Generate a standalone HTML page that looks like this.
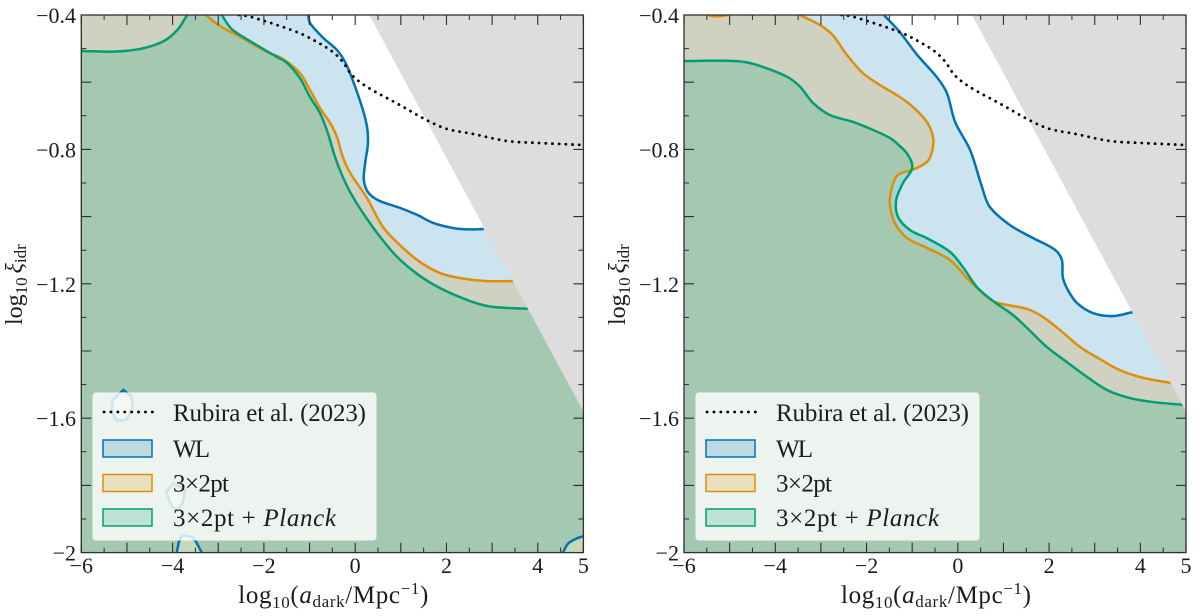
<!DOCTYPE html>
<html lang="en">
<head>
<meta charset="utf-8">
<title>Constraints on dark radiation interactions</title>
<style>
html,body{margin:0;padding:0;background:#fff;width:1200px;height:616px;overflow:hidden}
svg{display:block}
text{font-family:"Liberation Serif",serif;fill:#1c1c1c}
</style>
</head>
<body>
<svg id="figure" xmlns="http://www.w3.org/2000/svg" width="1200" height="616" viewBox="0 0 1200 616"></svg>
<script>
// ---------- shared values ----------
const xTickLabels = [-6, -4, -2, 0, 2, 4, 5];
const yTickLabels = [-0.4, -0.8, -1.2, -1.6, -2];
const xMajorTicks = [-6, -5, -4, -3, -2, -1, 0, 1, 2, 3, 4, 5];
const xMinorTicks = [-5.5, -4.5, -3.5, -2.5, -1.5, -0.5, 0.5, 1.5, 2.5, 3.5, 4.5];
const yMajorTicks = [-0.6, -0.8, -1.0, -1.2, -1.4, -1.6, -1.8];
const yMinorTicks = [-0.5, -0.7, -0.9, -1.1, -1.3, -1.5, -1.7, -1.9];
const greyX = [0.31, 5, 5];
const greyY = [-0.4, -0.4, -1.58];
const rubiraX = [-2.55, -2.30, -1.27, -0.84, -0.49, -0.27, -0.07, 0.26, 0.98, 1.57, 2.01, 2.58, 3.33, 4.05, 5];
const rubiraY = [-0.40, -0.405, -0.451, -0.480, -0.510, -0.540, -0.579, -0.614, -0.668, -0.713, -0.739, -0.754, -0.775, -0.781, -0.787];

// ---------- left panel contours ----------
const leftBlueX = [-1.03, -0.99, -0.70, -0.40, -0.22, -0.07, 0.15, 0.26, 0.28, 0.22, 0.19, 0.28, 0.50, 0.98, 1.36, 1.71, 2.14, 2.45, 2.82];
const leftBlueY = [-0.40, -0.424, -0.468, -0.504, -0.540, -0.588, -0.674, -0.733, -0.781, -0.840, -0.891, -0.927, -0.951, -0.974, -0.995, -1.019, -1.034, -1.038, -1.037];
const leftOrangeX = [-3.27, -3.00, -2.52, -1.93, -1.58, -1.21, -0.99, -0.77, -0.55, -0.40, -0.27, -0.11, 0.26, 0.61, 0.98, 1.42, 1.86, 2.30, 2.89, 3.46];
const leftOrangeY = [-0.40, -0.430, -0.465, -0.510, -0.531, -0.573, -0.623, -0.677, -0.721, -0.763, -0.823, -0.870, -0.945, -1.031, -1.085, -1.135, -1.168, -1.183, -1.192, -1.192];
const leftGreenAX = [-6, -5.31, -4.71, -4.21, -3.90, -3.68];
const leftGreenAY = [-0.507, -0.509, -0.501, -0.479, -0.445, -0.40];
const leftGreenBX = [-2.92, -2.81, -2.68, -2.24, -1.71, -1.49, -1.21, -0.99, -0.77, -0.60, -0.44, -0.29, -0.11, 0.17, 0.55, 0.92, 1.36, 1.86, 2.45, 2.89, 3.33, 3.79];
const leftGreenBY = [-0.40, -0.424, -0.445, -0.483, -0.525, -0.543, -0.588, -0.644, -0.692, -0.751, -0.823, -0.876, -0.927, -0.989, -1.061, -1.120, -1.171, -1.213, -1.248, -1.266, -1.272, -1.274];
const islandOneX = [-5.08, -4.90, -4.87, -5.01, -5.22, -5.33, -5.31];
const islandOneY = [-1.516, -1.536, -1.566, -1.605, -1.607, -1.581, -1.546];
const islandTwoX = [-3.98, -3.73, -3.77, -3.88, -4.02, -4.14];
const islandTwoY = [-1.794, -1.814, -1.848, -1.875, -1.863, -1.819];
const islandThreeX = [-3.91, -3.86, -3.79, -3.58, -3.49, -3.36];
const islandThreeY = [-2.0, -1.967, -1.948, -1.953, -1.967, -2.0];
const cornerX = [4.55, 4.66, 4.82, 5.0];
const cornerY = [-2.0, -1.974, -1.960, -1.951];

// ---------- right panel contours ----------
const rightBlueX = [-1.62, -1.27, -0.89, -0.46, -0.24, -0.06, 0.27, 0.53, 0.70, 1.14, 1.65, 2.13, 2.28, 2.30, 2.41, 2.61, 2.96, 3.40, 3.84];
const rightBlueY = [-0.40, -0.451, -0.519, -0.585, -0.632, -0.718, -0.802, -0.912, -0.971, -1.025, -1.064, -1.099, -1.129, -1.180, -1.218, -1.257, -1.287, -1.296, -1.284];
const rightOrangeArcX = [-5.50, -5.28, -5.04];
const rightOrangeArcY = [-0.40, -0.404, -0.40];
const rightOrangeX = [-3.46, -3.02, -2.74, -2.43, -2.08, -1.71, -1.27, -0.98, -0.68, -0.54, -0.57, -0.68, -1.00, -1.31, -1.44, -1.49, -1.38, -1.11, -0.68, -0.17, 0.20, 0.49, 0.77, 1.08, 1.52, 1.87, 2.24, 2.68, 3.11, 3.55, 4.06, 4.67];
const rightOrangeY = [-0.40, -0.430, -0.460, -0.519, -0.573, -0.608, -0.644, -0.674, -0.718, -0.766, -0.808, -0.838, -0.861, -0.876, -0.912, -0.960, -1.019, -1.064, -1.093, -1.129, -1.183, -1.221, -1.251, -1.263, -1.275, -1.299, -1.338, -1.388, -1.424, -1.457, -1.480, -1.495];
const rightGreenX = [-6, -5.06, -4.62, -4.18, -3.74, -3.46, -3.17, -2.80, -2.30, -1.86, -1.49, -1.27, -1.09, -1.00, -1.20, -1.35, -1.31, -1.05, -0.68, -0.17, 0.11, 0.42, 0.77, 1.21, 1.52, 1.95, 2.39, 2.83, 3.27, 3.77, 4.28, 5];
const rightGreenY = [-0.537, -0.536, -0.541, -0.559, -0.584, -0.613, -0.662, -0.698, -0.718, -0.742, -0.766, -0.790, -0.817, -0.855, -0.900, -0.951, -1.001, -1.040, -1.064, -1.105, -1.150, -1.210, -1.251, -1.293, -1.332, -1.388, -1.433, -1.477, -1.516, -1.540, -1.552, -1.561];

// ---------- drawing helpers ----------
const NS = 'http://www.w3.org/2000/svg';
const svg = document.getElementById('figure');
const BLUE = '#0173b2', ORANGE = '#de8f05', GREEN = '#029e73';
const TOP = 15, BOTTOM = 552.6;

function make(parent, tag, attrs) {
  const el = document.createElementNS(NS, tag);
  for (const k in attrs) el.setAttribute(k, attrs[k]);
  parent.appendChild(el);
  return el;
}
function yScale(v) { return TOP + (-0.4 - v) * (BOTTOM - TOP) / 1.6; }
function xScaleFor(x0, x1) { return v => x0 + (v + 6) * (x1 - x0) / 11; }
function toPoints(xs, ys, sx) { return xs.map((x, i) => [sx(x), yScale(ys[i])]); }
function unit(a, b) {
  const dx = b[0] - a[0], dy = b[1] - a[1], n = Math.hypot(dx, dy) || 1;
  return [dx / n, dy / n];
}
// chord-length scaled tangents keep unevenly spaced points free of kinks
function smooth(p) {
  let d = '';
  for (let i = 0; i < p.length - 1; i++) {
    const a = p[Math.max(i - 1, 0)], b = p[i], c = p[i + 1], e = p[Math.min(i + 2, p.length - 1)];
    const len = Math.hypot(c[0] - b[0], c[1] - b[1]) / 3;
    const t1 = unit(a, c), t2 = unit(b, e);
    d += ' C' + (b[0] + t1[0] * len).toFixed(2) + ' ' + (b[1] + t1[1] * len).toFixed(2) + ' '
       + (c[0] - t2[0] * len).toFixed(2) + ' ' + (c[1] - t2[1] * len).toFixed(2) + ' '
       + c[0].toFixed(2) + ' ' + c[1].toFixed(2);
  }
  return d;
}
function M(p) { return 'M' + p[0].toFixed(2) + ' ' + p[1].toFixed(2); }
function L(p) { return ' L' + p[0].toFixed(2) + ' ' + p[1].toFixed(2); }
function linear(p) { return M(p[0]) + p.slice(1).map(L).join(''); }
function curve(p) { return M(p[0]) + smooth(p); }
// fill below a chain of segments, bounded by the panel corners
function region(segs, sx, startCorner) {
  let d = startCorner ? M([sx(-6), TOP]) : '';
  segs.forEach((s, i) => {
    d += (d === '' ? M(s[0]) : L(s[0])) + smooth(s);
  });
  const last = segs[segs.length - 1];
  const endY = last[last.length - 1][1];
  d += L([sx(5), endY]) + L([sx(5), BOTTOM]) + L([sx(-6), BOTTOM]) + ' Z';
  return d;
}
function fmt(v) {
  const s = Number.isInteger(v) ? String(Math.abs(v)) : Math.abs(v).toFixed(1);
  return (v < 0 ? '\u2212' : '') + s;
}

function drawLegend(g, lx) {
  const legend = make(g, 'g', {});
  
  
  const box = make(legend, 'rect', { x: lx, y: 393, width: 283, height: 147, rx: 3, fill: '#fff', 'fill-opacity': 0.8, stroke: '#f2f5f2', 'stroke-width': 1 });
  
  

  const dots = make(legend, 'line', { x1: lx + 11, x2: lx + 60, y1: 412, y2: 412, stroke: '#000', 'stroke-width': 2.8, 'stroke-linecap': 'round', 'stroke-dasharray': '0.1 6.8' });
  
  
  const t0 = make(legend, 'text', { x: lx + 80, y: 421, 'font-size': 25, textLength: 193, lengthAdjust: 'spacing' });
  t0.textContent = 'Rubira et al. (2023)';
  
  

  const s1 = make(legend, 'rect', { x: lx + 10, y: 440, width: 49, height: 17, fill: BLUE, 'fill-opacity': 0.2, stroke: BLUE, 'stroke-width': 1.5 });
  
  
  const t1 = make(legend, 'text', { x: lx + 80, y: 457, 'font-size': 25, textLength: 37, lengthAdjust: 'spacing' });
  t1.textContent = 'WL';
  
  

  const s2 = make(legend, 'rect', { x: lx + 10, y: 474.5, width: 49, height: 17, fill: ORANGE, 'fill-opacity': 0.2, stroke: ORANGE, 'stroke-width': 1.5 });
  
  
  const t2 = make(legend, 'text', { x: lx + 80, y: 491.5, 'font-size': 25, textLength: 56, lengthAdjust: 'spacing' });
  t2.textContent = '3\u00d72pt';
  
  

  const s3 = make(legend, 'rect', { x: lx + 10, y: 509, width: 49, height: 17, fill: GREEN, 'fill-opacity': 0.2, stroke: GREEN, 'stroke-width': 1.5 });
  
  
  const t3 = make(legend, 'text', { x: lx + 80, y: 526, 'font-size': 25, textLength: 163, lengthAdjust: 'spacing' });
  
  
  const t3a = make(t3, 'tspan', {});
  t3a.textContent = '3\u00d72pt + ';
  const t3b = make(t3, 'tspan', { 'font-style': 'italic' });
  t3b.textContent = 'Planck';
}

function drawAxes(g, x0, x1, sx, yLabelRight, yTitleX) {
  const axes = make(g, 'g', { stroke: '#2e2e2e', fill: 'none' });
  
  
  xMajorTicks.forEach(v => {
    make(axes, 'path', { d: 'M' + sx(v) + ' ' + BOTTOM + 'v-10M' + sx(v) + ' ' + TOP + 'v10', 'stroke-width': 1.1 });
  });
  xMinorTicks.forEach(v => {
    make(axes, 'path', { d: 'M' + sx(v) + ' ' + BOTTOM + 'v-5M' + sx(v) + ' ' + TOP + 'v5', 'stroke-width': 1 });
  });
  yMajorTicks.forEach(v => {
    make(axes, 'path', { d: 'M' + x0 + ' ' + yScale(v) + 'h10M' + x1 + ' ' + yScale(v) + 'h-10', 'stroke-width': 1.1 });
  });
  yMinorTicks.forEach(v => {
    make(axes, 'path', { d: 'M' + x0 + ' ' + yScale(v) + 'h5M' + x1 + ' ' + yScale(v) + 'h-5', 'stroke-width': 1 });
  });
  const frame = make(axes, 'rect', { x: x0, y: TOP, width: x1 - x0, height: BOTTOM - TOP, 'stroke-width': 1.3 });
  
  

  xTickLabels.forEach(v => {
    const t = make(g, 'text', { x: sx(v), y: 573, 'font-size': 22, 'text-anchor': 'middle' });
    t.textContent = fmt(v);
    
    
  });
  yTickLabels.forEach(v => {
    const t = make(g, 'text', { x: yLabelRight, y: yScale(v) + 8, 'font-size': 22, 'text-anchor': 'end' });
    t.textContent = fmt(v);
    
    
  });

  // x-axis title
  const xt = make(g, 'text', { x: sx(-6) + 157, y: 603, 'font-size': 25, textLength: 190, lengthAdjust: 'spacing' });
  
  
  const a1 = make(xt, 'tspan', {}); a1.textContent = 'log';
  const a2 = make(xt, 'tspan', { dy: 5, 'font-size': 17 }); a2.textContent = '10';
  const a3 = make(xt, 'tspan', { dy: -5 }); a3.textContent = '(';
  const a4 = make(xt, 'tspan', { 'font-style': 'italic' }); a4.textContent = 'a';
  const a5 = make(xt, 'tspan', { dy: 4, 'font-size': 17 }); a5.textContent = 'dark';
  const a6 = make(xt, 'tspan', { dy: -4 }); a6.textContent = '/Mpc';
  const a7 = make(xt, 'tspan', { dy: -9, 'font-size': 17 }); a7.textContent = '\u22121';
  const a8 = make(xt, 'tspan', { dy: 9 }); a8.textContent = ')';

  // y-axis title
  const yt = make(g, 'text', { transform: 'translate(' + yTitleX + ' 325) rotate(-90)', 'font-size': 24 });
  
  
  const b1 = make(yt, 'tspan', {}); b1.textContent = 'log';
  const b2 = make(yt, 'tspan', { dy: 5, 'font-size': 17 }); b2.textContent = '10';
  const b3 = make(yt, 'tspan', { dy: -5, dx: 4, 'font-style': 'italic' }); b3.textContent = '\u03be';
  const b4 = make(yt, 'tspan', { dy: 4, 'font-size': 17 }); b4.textContent = 'idr';
}

function drawCommonGrey(g, sx) {
  const pts = toPoints(greyX, greyY, sx);
  const grey = make(g, 'polygon', { points: pts.map(p => p.join(',')).join(' '), fill: '#dddddd' });
  
  
}
function drawRubira(g, sx) {
  const line = make(g, 'path', { d: curve(toPoints(rubiraX, rubiraY, sx)), fill: 'none', stroke: '#000', 'stroke-width': 2.8, 'stroke-linecap': 'round', 'stroke-dasharray': '0.1 6.6' });
  
  
}

// ---------- clip paths ----------
const defs = make(svg, 'defs', {});
const clipL = make(defs, 'clipPath', { id: 'clip-left' });
make(clipL, 'rect', { x: 81.3, y: TOP, width: 502.1, height: BOTTOM - TOP });
const clipR = make(defs, 'clipPath', { id: 'clip-right' });
make(clipR, 'rect', { x: 684, y: TOP, width: 502, height: BOTTOM - TOP });

// ---------- left panel ----------
(function () {
  const x0 = 81.3, x1 = 583.4, sx = xScaleFor(x0, x1);
  const panel = make(svg, 'g', {});
  
  
  const plot = make(panel, 'g', { 'clip-path': 'url(#clip-left)' });

  const blue = toPoints(leftBlueX, leftBlueY, sx);
  const orange = toPoints(leftOrangeX, leftOrangeY, sx);
  const gA = toPoints(leftGreenAX, leftGreenAY, sx);
  const gB = toPoints(leftGreenBX, leftGreenBY, sx);
  const i1 = toPoints(islandOneX, islandOneY, sx);
  const i2 = toPoints(islandTwoX, islandTwoY, sx);
  const i3 = toPoints(islandThreeX, islandThreeY, sx);
  const i4 = toPoints(cornerX, cornerY, sx);

  const holes = [i1, i2, i3].map(p => ' ' + linear(p) + ' Z').join('') + ' ' + curve(i4) + L([sx(5), BOTTOM]) + ' Z';
  const fb = make(plot, 'path', { d: region([blue], sx, true) + holes, fill: BLUE, 'fill-opacity': 0.2, 'fill-rule': 'evenodd' });
  
  
  const fo = make(plot, 'path', { d: region([orange], sx, true), fill: ORANGE, 'fill-opacity': 0.2 });
  
  
  const fg = make(plot, 'path', { d: region([gA, gB], sx, false), fill: GREEN, 'fill-opacity': 0.2 });
  
  

  const lines = make(plot, 'g', { fill: 'none', 'stroke-width': 2.5 });
  const lb = make(lines, 'path', { d: curve(blue), stroke: BLUE });
  
  
  [i1, i2].forEach(p => {
    const isl = make(lines, 'path', { d: linear(p) + ' Z', stroke: BLUE });
    
    
  });
  const lb3 = make(lines, 'path', { d: linear(i3), stroke: BLUE });
  
  
  const lb4 = make(lines, 'path', { d: curve(i4), stroke: BLUE });
  
  
  const lo = make(lines, 'path', { d: curve(orange), stroke: ORANGE });
  
  
  const lg1 = make(lines, 'path', { d: curve(gA), stroke: GREEN });
  
  
  const lg2 = make(lines, 'path', { d: curve(gB), stroke: GREEN });
  
  

  drawCommonGrey(plot, sx);
  drawRubira(plot, sx);
  drawLegend(panel, 93);
  drawAxes(panel, x0, x1, sx, 76, 22);
})();

// ---------- right panel ----------
(function () {
  const x0 = 684, x1 = 1186, sx = xScaleFor(x0, x1);
  const panel = make(svg, 'g', {});
  
  
  const plot = make(panel, 'g', { 'clip-path': 'url(#clip-right)' });

  const blue = toPoints(rightBlueX, rightBlueY, sx);
  const arc = toPoints(rightOrangeArcX, rightOrangeArcY, sx);
  const orange = toPoints(rightOrangeX, rightOrangeY, sx);
  const green = toPoints(rightGreenX, rightGreenY, sx);

  const fb = make(plot, 'path', { d: region([blue], sx, true), fill: BLUE, 'fill-opacity': 0.2 });
  
  
  const fo = make(plot, 'path', { d: region([arc, orange], sx, true), fill: ORANGE, 'fill-opacity': 0.2 });
  
  
  const fg = make(plot, 'path', { d: region([green], sx, false), fill: GREEN, 'fill-opacity': 0.2 });
  
  

  const lines = make(plot, 'g', { fill: 'none', 'stroke-width': 2.5 });
  const lb = make(lines, 'path', { d: curve(blue), stroke: BLUE });
  
  
  const la = make(lines, 'path', { d: curve(arc), stroke: ORANGE });
  
  
  const lo = make(lines, 'path', { d: curve(orange), stroke: ORANGE });
  
  
  const lg = make(lines, 'path', { d: curve(green), stroke: GREEN });
  
  

  drawCommonGrey(plot, sx);
  drawRubira(plot, sx);
  drawLegend(panel, 696);
  drawAxes(panel, x0, x1, sx, 679, 625);
})();
</script>
</body>
</html>
